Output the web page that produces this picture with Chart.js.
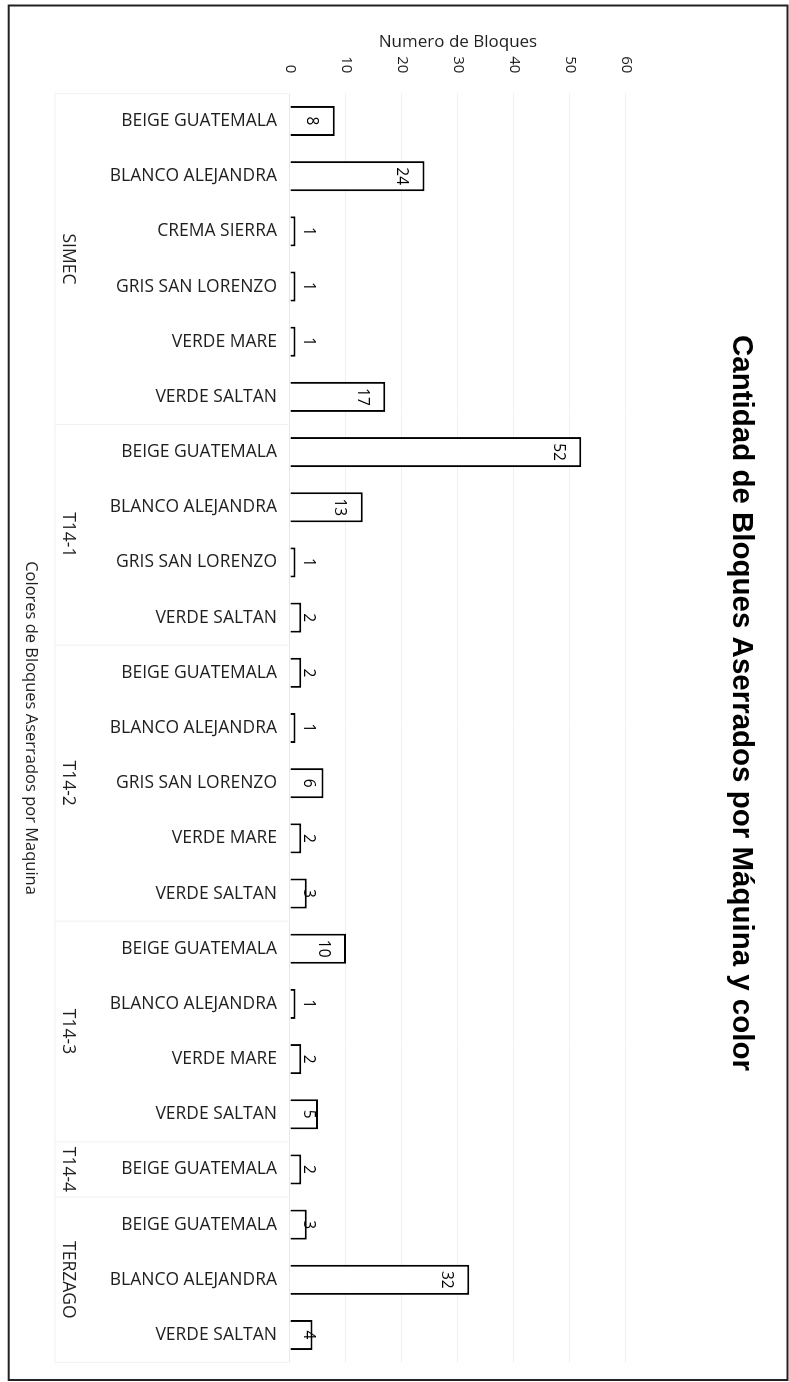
<!DOCTYPE html>
<html lang="es">
<head>
<meta charset="utf-8">
<title>Cantidad de Bloques Aserrados por Máquina y color</title>
<script src="https://cdn.jsdelivr.net/npm/chart.js@4.4.1/dist/chart.umd.min.js"></script>
<style>
  html, body { margin: 0; padding: 0; background: #fff; overflow: hidden; }
  /* the chart is laid out as a column chart and turned a quarter clockwise */
  #wrap {
    position: absolute; left: 0; top: 0;
    width: 1382px; height: 789px;
    transform-origin: 0 0;
    transform: translateX(789px) rotate(90deg);
  }
  canvas { display: block; }
</style>
</head>
<body>
<div id="wrap"><canvas id="chart" width="1382" height="789" style="width:1382px;height:789px"></canvas></div>
<script>
const chartTitle = 'Cantidad de Bloques Aserrados por Máquina y color';
const valueAxisTitle = 'Numero de Bloques';
const categoryAxisTitle = 'Colores de Bloques Aserrados por Maquina';

const colorLabels = [
  'BEIGE GUATEMALA', 'BLANCO ALEJANDRA', 'CREMA SIERRA', 'GRIS SAN LORENZO', 'VERDE MARE', 'VERDE SALTAN',
  'BEIGE GUATEMALA', 'BLANCO ALEJANDRA', 'GRIS SAN LORENZO', 'VERDE SALTAN',
  'BEIGE GUATEMALA', 'BLANCO ALEJANDRA', 'GRIS SAN LORENZO', 'VERDE MARE', 'VERDE SALTAN',
  'BEIGE GUATEMALA', 'BLANCO ALEJANDRA', 'VERDE MARE', 'VERDE SALTAN',
  'BEIGE GUATEMALA',
  'BEIGE GUATEMALA', 'BLANCO ALEJANDRA', 'VERDE SALTAN'
];
const machineNames = ['SIMEC', 'T14-1', 'T14-2', 'T14-3', 'T14-4', 'TERZAGO'];
const machineRowCounts = [6, 4, 5, 4, 1, 3];
const blockCounts = [
  8, 24, 1, 1, 1, 17,
  52, 13, 1, 2,
  2, 1, 6, 2, 3,
  10, 1, 2, 5,
  2,
  3, 32, 4
];
const valueTicks = [0, 10, 20, 30, 40, 50, 60];

const TEXT = '#1f1f1f';
const FAINT = '#f1f1f1';

// white page, outer frame and the title
const framePlugin = {
  id: 'frameAndTitle',
  beforeDraw(chart) {
    const ctx = chart.ctx;
    ctx.save();
    ctx.fillStyle = '#fff';
    ctx.fillRect(0, 0, chart.width, chart.height);
    ctx.strokeStyle = '#222';
    ctx.lineWidth = 2;
    ctx.strokeRect(5.5, 1.5, 1374.5, 778.8);
    ctx.restore();
  },
  afterDraw(chart) {
    const ctx = chart.ctx;
    ctx.save();
    ctx.fillStyle = '#000';
    ctx.font = 'bold 29.5px "Liberation Sans", Arial, sans-serif';
    ctx.textAlign = 'center';
    ctx.textBaseline = 'middle';
    ctx.fillText(chartTitle, 703, 48);
    ctx.restore();
  }
};

// second level of the category axis: machine names and their separators
const machinePlugin = {
  id: 'machineAxis',
  afterDraw(chart) {
    const x = chart.scales.x;
    const ctx = chart.ctx;
    const step = x.getPixelForValue(1) - x.getPixelForValue(0);
    const lineEnd = x.top + 235;
    const edges = [x.getPixelForValue(0) - step / 2];
    ctx.save();
    ctx.fillStyle = TEXT;
    ctx.font = '17.5px "Open Sans", sans-serif';
    ctx.textAlign = 'center';
    ctx.textBaseline = 'middle';
    let start = 0;
    machineNames.forEach((name, i) => {
      const end = start + machineRowCounts[i] - 1;
      const a = x.getPixelForValue(start);
      const b = x.getPixelForValue(end);
      ctx.fillText(name, (a + b) / 2, x.top + 222);
      edges.push(b + step / 2);
      start = end + 1;
    });
    ctx.strokeStyle = FAINT;
    ctx.lineWidth = 1;
    ctx.beginPath();
    edges.forEach(e => {
      ctx.moveTo(e, x.top);
      ctx.lineTo(e, lineEnd);
    });
    ctx.moveTo(x.left, lineEnd);
    ctx.lineTo(x.right, lineEnd);
    ctx.stroke();
    ctx.restore();
  }
};

// value of each bar, written just inside its end
const valueLabelPlugin = {
  id: 'valueLabels',
  afterDatasetsDraw(chart) {
    const meta = chart.getDatasetMeta(0);
    const values = chart.data.datasets[0].data;
    const ctx = chart.ctx;
    ctx.save();
    ctx.fillStyle = '#000';
    ctx.font = '15.5px "Open Sans", sans-serif';
    ctx.textAlign = 'center';
    ctx.textBaseline = 'middle';
    meta.data.forEach((bar, i) => {
      const y = Math.min(bar.y + 23, bar.base - 17.5);
      ctx.fillText(String(values[i]), bar.x, y);
    });
    ctx.restore();
  }
};

new Chart(document.getElementById('chart'), {
  type: 'bar',
  data: {
    labels: colorLabels,
    datasets: [{
      label: valueAxisTitle,
      data: blockCounts,
      backgroundColor: '#ffffff',
      borderColor: '#000000',
      borderWidth: 2,
      borderSkipped: 'start',
      categoryPercentage: 1,
      barPercentage: 0.545
    }]
  },
  options: {
    responsive: false,
    animation: false,
    devicePixelRatio: 1,
    layout: { padding: { top: 163, right: 19.4, bottom: 0, left: 0 } },
    plugins: {
      legend: { display: false },
      title: { display: false },
      tooltip: { enabled: false }
    },
    scales: {
      x: {
        type: 'category',
        position: 'bottom',
        grid: { display: false, drawTicks: false },
        border: { display: true, color: '#e8e8e8', width: 1 },
        ticks: {
          autoSkip: false, minRotation: 90, maxRotation: 90, padding: 13,
          color: TEXT, font: { family: 'Open Sans', size: 17.5 }
        },
        title: {
          display: true, text: categoryAxisTitle, color: TEXT,
          font: { family: 'Open Sans', size: 16.5 },
          padding: { top: 0, bottom: 21 }
        },
        afterFit(scale) { scale.height = 290; }
      },
      y: {
        type: 'linear',
        position: 'left',
        min: valueTicks[0],
        max: valueTicks[valueTicks.length - 1],
        ticks: {
          stepSize: valueTicks[1] - valueTicks[0], padding: 20,
          color: TEXT, font: { family: 'Open Sans', size: 15 }
        },
        grid: { color: '#f0f0f0', drawTicks: false },
        border: { display: false },
        title: {
          display: true, text: valueAxisTitle, color: TEXT,
          font: { family: 'Open Sans', size: 17 },
          padding: { top: 31.8, bottom: 0 }
        },
        afterFit(scale) { scale.width = 93.4; }
      }
    }
  },
  plugins: [framePlugin, machinePlugin, valueLabelPlugin]
});
</script>
</body>
</html>
